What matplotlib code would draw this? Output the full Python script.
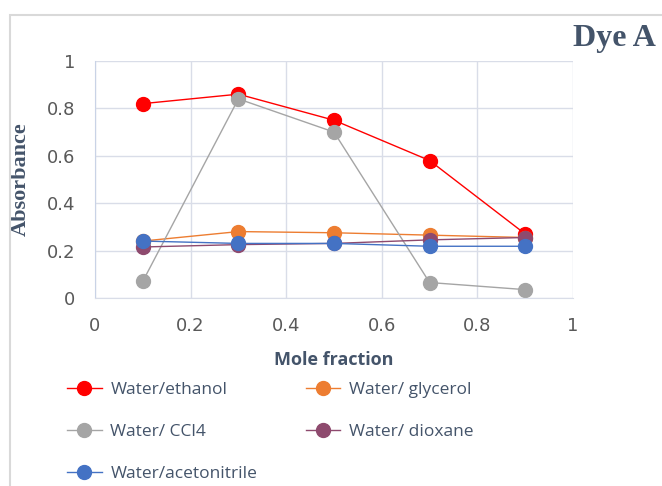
import matplotlib
matplotlib.use("Agg")
import matplotlib.pyplot as plt
from matplotlib.patches import Rectangle

# mole fraction
x = [0.1, 0.3, 0.5, 0.7, 0.9]

ethanol = [0.82, 0.86, 0.75, 0.58, 0.27]
glycerol = [0.24, 0.28, 0.275, 0.265, 0.255]
ccl4 = [0.07, 0.84, 0.70, 0.065, 0.035]
dioxane = [0.215, 0.225, 0.23, 0.245, 0.255]
acetonitrile = [0.24, 0.23, 0.23, 0.218, 0.218]

labels = ["Water/ethanol", "Water/ glycerol", "Water/ CCl4",
          "Water/ dioxane", "Water/acetonitrile"]
series = [ethanol, glycerol, ccl4, dioxane, acetonitrile]
colors = ["#FF0000", "#ED7D31", "#A5A5A5", "#8E4A6E", "#4472C4"]

fig = plt.figure(figsize=(6.62, 4.86), dpi=100)
ax = fig.add_axes([0.1435, 0.387, 0.722, 0.4875])

# outer chart frame
fig.patches.append(Rectangle((10 / 662, -0.01), 1.0, 1 - 15 / 486 + 0.01,
                             transform=fig.transFigure, fill=False,
                             edgecolor="#D9D9D9", linewidth=1.5))

handles = []
for ys, c, lab in zip(series, colors, labels):
    h, = ax.plot(x, ys, color=c, linewidth=1, marker="o", markersize=10,
                 markeredgecolor=c, label=lab)
    handles.append(h)

ax.set_xlim(0, 1)
ax.set_ylim(0, 1)
ax.set_xticks([0, 0.2, 0.4, 0.6, 0.8, 1])
ax.set_xticklabels(["0", "0.2", "0.4", "0.6", "0.8", "1"])
ax.set_yticks([0, 0.2, 0.4, 0.6, 0.8, 1])
ax.set_yticklabels(["0", "0.2", "0.4", "0.6", "0.8", "1"])
ax.tick_params(length=0, labelsize=13, labelcolor="#595959", pad=14)
ax.grid(True, color="#D9DDE8", linewidth=1)
ax.set_axisbelow(True)
for s in ["top", "right"]:
    ax.spines[s].set_visible(False)
ax.spines["left"].set_color("#C9D3E6")
ax.spines["bottom"].set_color("#D9DDE8")

ax.set_xlabel("Mole fraction", fontsize=13, fontweight="bold",
              color="#44546A", family="Open Sans", labelpad=11)
ax.set_ylabel("Absorbance", fontsize=16, fontweight="bold",
              color="#44546A", family="Liberation Serif")
ax.yaxis.set_label_coords(-0.135, 0.5)

fig.text(0.99, 0.92, "Dye A", ha="right", va="center", fontsize=23,
         fontweight="bold", family="Liberation Serif", color="#44546A")

# row-major order for a 2-column legend
order = [0, 2, 4, 1, 3]
fig.legend(handles=[handles[i] for i in order], loc="upper left",
           bbox_to_anchor=(0.101, 0.215), borderaxespad=0, borderpad=0,
           ncol=2, frameon=False, labelcolor="#44546A",
           columnspacing=2.8, handlelength=2.0, handletextpad=0.5,
           labelspacing=1.5, prop={"family": "Open Sans", "size": 12.5})

fig.savefig("out.png", dpi=100)
